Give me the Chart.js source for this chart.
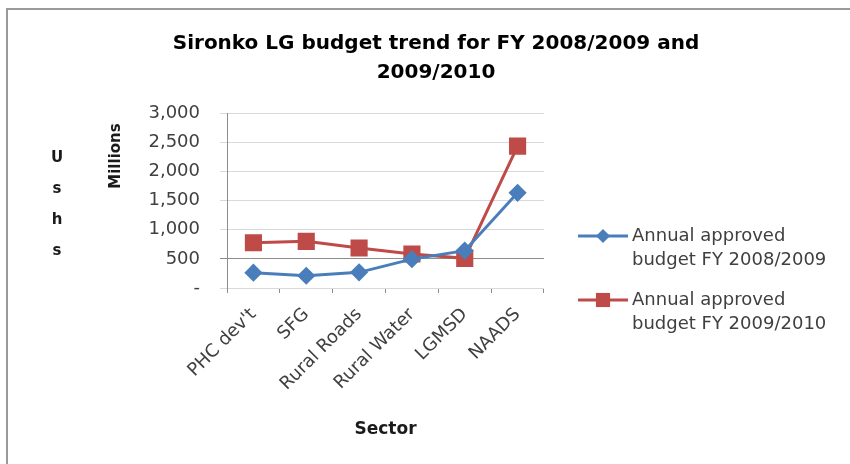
<!DOCTYPE html>
<html>
<head>
<meta charset="utf-8">
<script src="https://cdn.jsdelivr.net/npm/chart.js@4"></script>
<style>
  html, body { margin: 0; padding: 0; background: #fff; overflow: hidden; }
  #wrap { position: relative; width: 850px; height: 464px; }
</style>
</head>
<body>
<div id="wrap"><canvas id="budgetChart" width="850" height="464"></canvas></div>
<script>
const sectors = ['PHC dev\'t', 'SFG', 'Rural Roads', 'Rural Water', 'LGMSD', 'NAADS'];
const budget0809 = [262, 210, 268, 495, 640, 1632];
const budget0910 = [776, 800, 685, 582, 508, 2432];
const seriesNames = [
    ['Annual approved', 'budget FY 2008/2009'],
    ['Annual approved', 'budget FY 2009/2010']
];
const titleLines = ['Sironko LG budget trend for FY 2008/2009 and', '2009/2010'];
const yTicks = [0, 500, 1000, 1500, 2000, 2500, 3000];

const FONT = '"DejaVu Sans", "Liberation Sans", sans-serif';

// title, side labels and the two-line legend are drawn on the canvas
const extras = {
    id: 'extras',
    afterDraw(chart) {
        const ctx = chart.ctx;
        const area = chart.chartArea;
        ctx.save();
        // outer frame (only top and left edges are inside the picture)
        ctx.strokeStyle = '#9a9a9a';
        ctx.lineWidth = 2;
        ctx.beginPath();
        ctx.moveTo(7, 470);
        ctx.lineTo(7, 9);
        ctx.lineTo(860, 9);
        ctx.stroke();

        ctx.fillStyle = '#000';
        ctx.textAlign = 'center';
        ctx.textBaseline = 'middle';
        ctx.font = 'bold 20px ' + FONT;
        titleLines.forEach((t, i) => ctx.fillText(t, 436, 44 + i * 29));

        ctx.fillStyle = '#1a1a1a';
        ctx.font = 'bold 15px ' + FONT;
        ['U', 's', 'h', 's'].forEach((c, i) => ctx.fillText(c, 57, 158 + i * 31));

        ctx.save();
        ctx.translate(116, 156);
        ctx.rotate(-Math.PI / 2);
        ctx.fillText('Millions', 0, 0);
        ctx.restore();

        // legend
        chart.data.datasets.forEach((ds, i) => {
            const y = 236 + i * 64;
            const x0 = area.right + 34, x1 = x0 + 50;
            ctx.strokeStyle = ds.borderColor;
            ctx.lineWidth = 3;
            ctx.beginPath();
            ctx.moveTo(x0, y);
            ctx.lineTo(x1, y);
            ctx.stroke();
            ctx.fillStyle = ds.backgroundColor;
            Chart.helpers.drawPoint(ctx, {
                pointStyle: ds.pointStyle,
                radius: ds.pointRadius,
                borderWidth: 0
            }, (x0 + x1) / 2, y);
            ctx.fillStyle = '#404040';
            ctx.font = '18px ' + FONT;
            ctx.textAlign = 'left';
            seriesNames[i].forEach((t, j) => ctx.fillText(t, x1 + 4, y + j * 24));
        });
        ctx.restore();
    }
};

new Chart(document.getElementById('budgetChart'), {
    type: 'line',
    data: {
        labels: sectors,
        datasets: [{
            label: seriesNames[0].join(' '),
            data: budget0809,
            borderColor: '#4a7ebb',
            backgroundColor: '#4a7ebb',
            borderWidth: 3,
            pointStyle: 'rectRot',
            pointRadius: 7,
            pointHoverRadius: 7,
            tension: 0
        }, {
            label: seriesNames[1].join(' '),
            data: budget0910,
            borderColor: '#be4b48',
            backgroundColor: '#be4b48',
            borderWidth: 3,
            pointStyle: 'rect',
            pointRadius: 10,
            pointHoverRadius: 10,
            tension: 0
        }]
    },
    options: {
        responsive: false,
        animation: false,
        layout: { padding: { left: 101, right: 306, bottom: 24, top: 113 } },
        plugins: {
            legend: { display: false },
            tooltip: { enabled: false },
            title: { display: false }
        },
        scales: {
            x: {
                offset: true,
                afterFit(s) { s.height = 152; },
                grid: {
                    offset: true,
                    drawOnChartArea: false,
                    drawTicks: true,
                    tickLength: 5,
                    color: '#8c8c8c'
                },
                border: { display: false },
                ticks: {
                    minRotation: 45,
                    maxRotation: 45,
                    padding: 11,
                    color: '#404040',
                    font: { family: FONT, size: 18 }
                },
                title: {
                    display: true,
                    text: 'Sector',
                    color: '#1a1a1a',
                    font: { family: FONT, size: 17, weight: 'bold', lineHeight: 1.2 },
                    padding: { top: 4, bottom: 0 }
                }
            },
            y: {
                min: 0,
                max: 3000,
                afterFit(s) { s.width = 126; },
                afterBuildTicks(s) { s.ticks = yTicks.map(v => ({ value: v })); },
                grid: {
                    color: ctx => ctx.tick && ctx.tick.value === 500 ? '#8c8c8c' : '#d9d9d9',
                    tickLength: 7,
                    lineWidth: 1
                },
                border: { color: '#8c8c8c' },
                ticks: {
                    padding: 20,
                    color: '#404040',
                    font: { family: FONT, size: 18 },
                    callback: v => v === 0 ? '-' : v.toLocaleString('en-US')
                }
            }
        }
    },
    plugins: [extras]
});
</script>
</body>
</html>
